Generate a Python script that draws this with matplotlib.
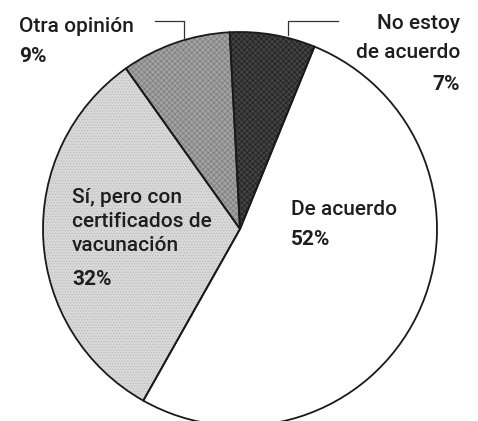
import matplotlib.pyplot as plt

W, H = 478, 421

labels = ['No estoy\nde acuerdo', 'De acuerdo', 'Sí, pero con\ncertificados de\nvacunación', 'Otra opinión']
values = [7, 52, 32, 9]
colors = ['#424242', '#ffffff', '#d9d9d9', '#a2a2a2']
hatch_colors = ['#202020', '#ffffff', '#b8b8b8', '#7c7c7c']

plt.rcParams['font.family'] = ['Roboto', 'DejaVu Sans']
plt.rcParams['hatch.linewidth'] = 0.5
txt_color = '#1e1e1e'
fs = 15


def py(y):
    # pixel row -> data y
    return H - y


def block(x, y0, lines, pct, ha='left', step=26, gap=3):
    y = y0
    for ln in lines:
        ax.text(x, py(y), ln, ha=ha, va='baseline', fontsize=fs, color=txt_color, fontweight='medium')
        y += step
    ax.text(x, py(y + gap), pct, ha=ha, va='baseline', fontsize=fs, color=txt_color, fontweight='bold')


fig = plt.figure(figsize=(W / 100, H / 100), dpi=100)
ax = fig.add_axes([0, 0, 1, 1])

ax.pie(values, startangle=93, counterclock=False,
       center=(240, py(229)), radius=197, colors=colors, frame=True,
       wedgeprops=dict(linewidth=0))
# fine halftone texture
tex, _ = ax.pie(values, startangle=93, counterclock=False,
                center=(240, py(229)), radius=197, colors=['none'] * 4, frame=True,
                hatch=['xxxxxx', None, '......', 'xxxxxx'],
                wedgeprops=dict(linewidth=0))
for w, hc in zip(tex, hatch_colors):
    w.set_edgecolor(hc)
# outlines on top
ax.pie(values, startangle=93, counterclock=False,
       center=(240, py(229)), radius=197, colors=['none'] * 4, frame=True,
       wedgeprops=dict(edgecolor='#1a1a1a', linewidth=1.3))

# labels
block(19, 32, labels[3].split('\n'), f'{values[3]}%', step=27)
block(460, 29, labels[0].split('\n'), f'{values[0]}%', ha='right', step=29)
block(291, 215, labels[1].split('\n'), f'{values[1]}%', step=27)
block(72, 203, labels[2].split('\n'), f'{values[2]}%', step=24, gap=10)

# leader lines
ax.plot([155, 184, 184], [py(21), py(21), py(38)], color='#333333', lw=0.9)
ax.plot([338, 288, 288], [py(21), py(21), py(35)], color='#333333', lw=0.9)

ax.set_xlim(0, W)
ax.set_ylim(0, H)
ax.axis('off')

fig.savefig('out.png', dpi=100)
